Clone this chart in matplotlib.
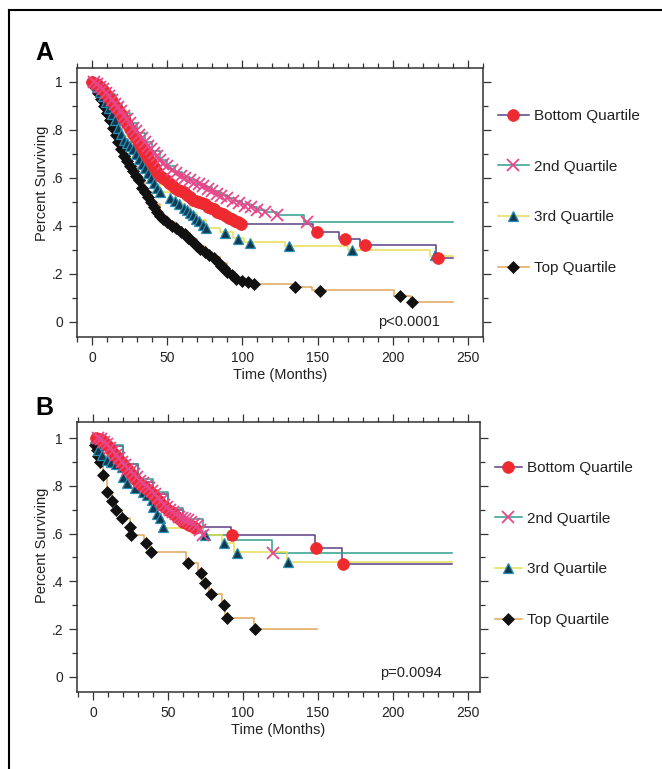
import matplotlib
matplotlib.use('Agg')
import matplotlib.pyplot as plt
from matplotlib.lines import Line2D
from matplotlib.ticker import MultipleLocator, FixedLocator, FixedFormatter

plt.rcParams['font.family'] = ['Liberation Sans', 'DejaVu Sans']

# ---------------- data ----------------
groups = ['Bottom Quartile', '2nd Quartile', '3rd Quartile', 'Top Quartile']
x_ticks = [0, 50, 100, 150, 200, 250]
y_ticks = [0, 0.2, 0.4, 0.6, 0.8, 1.0]
y_tick_labels = ['0', '.2', '.4', '.6', '.8', '1']
p_values = ['p<0.0001', 'p=0.0094']
panel_labels = ['A', 'B']

# Panel A  (step-line knots, then censor marks)
A_bottom_line_t = [0, 5, 10, 15, 20, 25, 30, 35, 40, 45, 50, 55, 60, 65, 70, 75, 80, 85, 90, 95, 100, 147, 164, 178, 229, 240]
A_bottom_line_s = [1.0, 0.98, 0.94, 0.90, 0.855, 0.805, 0.755, 0.705, 0.655, 0.61, 0.585, 0.56, 0.54, 0.52, 0.50, 0.49, 0.475, 0.455, 0.44, 0.42, 0.407, 0.375, 0.345, 0.32, 0.265, 0.265]
A_bottom_mark_t = [0, 3, 5, 7, 9, 11, 13, 15, 17, 19, 21, 23, 25, 27, 29, 31, 33, 35, 37, 39, 41, 43, 45, 47, 49, 51, 53, 55, 57, 59, 61, 63, 65, 67, 69, 71, 73, 75, 77, 79, 81, 83, 85, 87, 89, 91, 93, 95, 97, 99, 149.6, 168, 181.5, 230]
A_bottom_mark_s = [1.0, 0.99, 0.98, 0.965, 0.95, 0.935, 0.92, 0.90, 0.885, 0.865, 0.845, 0.825, 0.805, 0.785, 0.765, 0.745, 0.725, 0.705, 0.685, 0.665, 0.645, 0.625, 0.61, 0.60, 0.59, 0.58, 0.57, 0.56, 0.55, 0.545, 0.54, 0.53, 0.52, 0.51, 0.505, 0.50, 0.495, 0.49, 0.48, 0.475, 0.47, 0.46, 0.455, 0.45, 0.44, 0.435, 0.43, 0.42, 0.415, 0.41, 0.375, 0.345, 0.32, 0.265]

A_2nd_line_t = [0, 5, 10, 15, 20, 25, 30, 35, 40, 45, 50, 55, 60, 65, 70, 75, 80, 85, 90, 95, 100, 105, 110, 115, 123, 141, 240]
A_2nd_line_s = [1.0, 0.98, 0.948, 0.91, 0.87, 0.83, 0.787, 0.75, 0.712, 0.675, 0.65, 0.625, 0.605, 0.59, 0.575, 0.562, 0.545, 0.528, 0.515, 0.503, 0.49, 0.478, 0.468, 0.458, 0.445, 0.417, 0.417]
A_2nd_mark_t = [1, 3, 5, 7, 9, 11, 13, 15, 17, 19, 21, 23, 25, 27, 29, 31, 33, 35, 37, 39, 41, 43, 45, 47, 50, 53, 56, 59, 62, 65, 68, 71, 74, 77, 80, 83, 86, 90, 94, 98, 102, 106, 110, 115, 123, 143]
A_2nd_mark_s = [1.0, 0.99, 0.98, 0.97, 0.955, 0.94, 0.925, 0.91, 0.895, 0.88, 0.86, 0.845, 0.83, 0.81, 0.795, 0.78, 0.765, 0.75, 0.735, 0.72, 0.705, 0.69, 0.675, 0.66, 0.65, 0.635, 0.62, 0.61, 0.60, 0.59, 0.58, 0.575, 0.565, 0.555, 0.545, 0.535, 0.525, 0.515, 0.505, 0.495, 0.485, 0.477, 0.468, 0.458, 0.445, 0.417]

A_3rd_line_t = [0, 5, 10, 15, 20, 25, 30, 35, 40, 45, 52, 55, 60, 65, 70, 76, 85, 94, 101, 128, 170, 225, 240]
A_3rd_line_s = [1.0, 0.96, 0.9, 0.84, 0.775, 0.735, 0.69, 0.64, 0.59, 0.54, 0.515, 0.5, 0.48, 0.455, 0.425, 0.39, 0.375, 0.35, 0.333, 0.316, 0.30, 0.275, 0.275]
A_3rd_mark_t = [1, 3, 5, 7, 9, 11, 13, 15, 17, 19, 21, 23, 25, 27, 29, 31, 33, 35, 37, 39, 41, 43, 45, 52, 55, 58, 61, 63, 65, 67, 69, 71, 74, 76, 88.5, 97, 105, 131, 173, 228]
A_3rd_mark_s = [1.0, 0.98, 0.96, 0.94, 0.915, 0.89, 0.865, 0.84, 0.81, 0.785, 0.76, 0.745, 0.735, 0.72, 0.70, 0.68, 0.66, 0.64, 0.62, 0.60, 0.58, 0.56, 0.54, 0.515, 0.505, 0.49, 0.475, 0.465, 0.455, 0.445, 0.43, 0.42, 0.405, 0.39, 0.372, 0.345, 0.33, 0.316, 0.30, 0.28]

A_top_line_t = [0, 5, 10, 15, 20, 25, 30, 35, 40, 45, 50, 55, 60, 65, 70, 75, 80, 85, 90, 95, 100, 108, 133, 146, 201, 212, 240]
A_top_line_s = [1.0, 0.945, 0.87, 0.79, 0.70, 0.65, 0.60, 0.54, 0.49, 0.44, 0.415, 0.395, 0.37, 0.345, 0.315, 0.29, 0.27, 0.245, 0.21, 0.185, 0.172, 0.158, 0.146, 0.132, 0.11, 0.083, 0.083]
A_top_mark_t = [0, 2, 4, 6, 8, 10, 12, 14, 16, 17, 19, 21, 23, 25, 27, 29, 31, 33, 35, 37, 39, 41, 43, 45, 47, 50, 53, 56, 59, 62, 64, 66, 68, 70, 72, 75, 78, 81, 84, 86, 88, 90, 93, 96, 100, 104, 108, 135, 151.6, 205, 212.8]
A_top_mark_s = [1.0, 0.98, 0.955, 0.93, 0.90, 0.87, 0.84, 0.81, 0.78, 0.75, 0.72, 0.69, 0.67, 0.65, 0.63, 0.61, 0.59, 0.56, 0.54, 0.52, 0.50, 0.48, 0.46, 0.44, 0.43, 0.415, 0.40, 0.39, 0.375, 0.365, 0.35, 0.34, 0.33, 0.315, 0.305, 0.29, 0.28, 0.265, 0.25, 0.235, 0.225, 0.21, 0.195, 0.18, 0.172, 0.165, 0.16, 0.146, 0.13, 0.11, 0.083]

# Panel B
B_bottom_line_t = [0, 10, 20, 30, 40, 50, 60, 68, 92, 148, 166, 239]
B_bottom_line_s = [1.0, 0.965, 0.89, 0.815, 0.765, 0.70, 0.65, 0.628, 0.594, 0.54, 0.473, 0.473]
B_bottom_mark_t = [2, 4, 6, 8, 10, 12, 14, 16, 18, 20, 22, 24, 26, 28, 30, 32, 34, 36, 38, 40, 42, 44, 46, 48, 50, 52, 54, 56, 58, 60, 62, 64, 66, 68, 92.7, 148.7, 166.7]
B_bottom_mark_s = [1.0, 0.995, 0.99, 0.98, 0.965, 0.95, 0.935, 0.92, 0.905, 0.89, 0.875, 0.86, 0.845, 0.83, 0.815, 0.805, 0.795, 0.785, 0.775, 0.765, 0.75, 0.735, 0.72, 0.71, 0.70, 0.69, 0.68, 0.67, 0.66, 0.65, 0.643, 0.636, 0.63, 0.625, 0.594, 0.54, 0.473]

B_2nd_line_t = [0, 10, 20, 30, 40, 50, 60, 73, 90, 119, 239]
B_2nd_line_s = [1.0, 0.97, 0.89, 0.83, 0.775, 0.705, 0.66, 0.594, 0.573, 0.519, 0.519]
B_2nd_mark_t = [3, 5, 7, 9, 11, 13, 15, 17, 19, 21, 23, 25, 27, 29, 31, 33, 35, 37, 39, 41, 43, 45, 47, 49, 51, 53, 55, 57, 59, 61, 63, 65, 67, 69, 71, 73.5, 120]
B_2nd_mark_s = [1.0, 0.995, 0.985, 0.975, 0.96, 0.945, 0.93, 0.915, 0.90, 0.885, 0.87, 0.86, 0.85, 0.835, 0.82, 0.81, 0.80, 0.79, 0.78, 0.765, 0.75, 0.735, 0.72, 0.71, 0.70, 0.69, 0.68, 0.67, 0.665, 0.66, 0.655, 0.65, 0.64, 0.63, 0.615, 0.594, 0.52]

B_3rd_line_t = [0, 3.6, 9.1, 19, 20, 22.4, 33.5, 39, 40, 42.4, 44.7, 46.4, 73, 86, 94, 129, 239]
B_3rd_line_s = [1.0, 0.95, 0.908, 0.88, 0.837, 0.81, 0.775, 0.74, 0.71, 0.684, 0.664, 0.625, 0.594, 0.559, 0.523, 0.48, 0.48]
B_3rd_mark_t = [1, 3.6, 6, 9.1, 12, 15, 19, 20, 22.4, 28, 33.5, 36, 39, 40, 42.4, 44.7, 46.4, 74.7, 87.3, 95.8, 130]
B_3rd_mark_s = [1.0, 0.95, 0.93, 0.908, 0.90, 0.89, 0.88, 0.837, 0.81, 0.79, 0.775, 0.76, 0.74, 0.71, 0.684, 0.664, 0.629, 0.594, 0.559, 0.52, 0.483]

B_top_line_t = [0, 1, 2.4, 3.6, 4.7, 6.5, 9.5, 12.4, 15.5, 19.5, 24.5, 25.5, 34, 38, 62, 70, 73, 77, 86, 88, 107, 149]
B_top_line_s = [1.0, 0.971, 0.95, 0.925, 0.90, 0.845, 0.772, 0.738, 0.699, 0.664, 0.629, 0.594, 0.559, 0.522, 0.476, 0.434, 0.392, 0.349, 0.301, 0.245, 0.200, 0.200]
B_top_mark_t = [1, 2.4, 3.6, 4.7, 6.5, 9.5, 12.4, 15.5, 19.5, 24.5, 25.5, 35.5, 38.8, 63.6, 72, 74.5, 78.8, 87.2, 89.1, 108]
B_top_mark_s = [0.971, 0.95, 0.925, 0.90, 0.845, 0.772, 0.738, 0.699, 0.664, 0.629, 0.594, 0.559, 0.522, 0.476, 0.434, 0.392, 0.349, 0.301, 0.245, 0.200]

# ---------------- styles ----------------
line_colors = ['#5b3f86', '#2f9e8c', '#e6de55', '#e0a55a']
marker_styles = [
    dict(marker='o', markersize=8.5, markerfacecolor='#ee2a30', markeredgecolor='#ee2a30', markeredgewidth=0.5),
    dict(marker='x', markersize=8, markerfacecolor='#e8468a', markeredgecolor='#e8468a', markeredgewidth=1.3),
    dict(marker='^', markersize=7, markerfacecolor='#103a50', markeredgecolor='#2c8db3', markeredgewidth=0.9),
    dict(marker='D', markersize=6.3, markerfacecolor='#111111', markeredgecolor='#111111', markeredgewidth=0.5),
]
marker_draw_order = [3, 2, 0, 1]

panels = [
    dict(lines=[(A_bottom_line_t, A_bottom_line_s), (A_2nd_line_t, A_2nd_line_s),
                (A_3rd_line_t, A_3rd_line_s), (A_top_line_t, A_top_line_s)],
         marks=[(A_bottom_mark_t, A_bottom_mark_s), (A_2nd_mark_t, A_2nd_mark_s),
                (A_3rd_mark_t, A_3rd_mark_s), (A_top_mark_t, A_top_mark_s)],
         rect=[77/662, 1-337/769, 406/662, 269/769], xlim=(-10, 260), ylim=(-0.0625, 1.058),
         ptext=(0.894, 0.056), ylab=(-0.086, 0.57), legend=(498/662, 1-192/769), hl=2.0,
         letter=(35/662, 1-53/769)),
    dict(lines=[(B_bottom_line_t, B_bottom_line_s), (B_2nd_line_t, B_2nd_line_s),
                (B_3rd_line_t, B_3rd_line_s), (B_top_line_t, B_top_line_s)],
         marks=[(B_bottom_mark_t, B_bottom_mark_s), (B_2nd_mark_t, B_2nd_mark_s),
                (B_3rd_mark_t, B_3rd_mark_s), (B_top_mark_t, B_top_mark_s)],
         rect=[77/662, 1-692/769, 403/662, 270/769], xlim=(-10.7, 258), ylim=(-0.063, 1.067),
         ptext=(0.906, 0.070), ylab=(-0.086, 0.544), legend=(495/662, 1-544/769), hl=1.75,
         letter=(35/662, 1-408/769)),
]

fig = plt.figure(figsize=(6.62, 7.69), dpi=100)
fig.patch.set_facecolor('white')

for k, pn in enumerate(panels):
    ax = fig.add_axes(pn['rect'])
    for i, (t, s) in enumerate(pn['lines']):
        ax.step(t, s, where='post', color=line_colors[i], lw=1.1, zorder=2)
    for i in marker_draw_order:
        t, s = pn['marks'][i]
        ax.plot(t, s, linestyle='none', zorder=3, **marker_styles[i])
    ax.set_xlim(*pn['xlim'])
    ax.set_ylim(*pn['ylim'])
    ax.xaxis.set_major_locator(FixedLocator(x_ticks))
    ax.xaxis.set_minor_locator(MultipleLocator(10))
    ax.yaxis.set_major_locator(FixedLocator(y_ticks))
    ax.yaxis.set_major_formatter(FixedFormatter(y_tick_labels))
    ax.yaxis.set_minor_locator(MultipleLocator(0.1))
    ax.tick_params(which='both', direction='out', top=True, right=True,
                   labeltop=False, labelright=False, color='#333333', width=0.9)
    ax.tick_params(which='major', length=6, labelsize=10, pad=4, labelcolor='#222222')
    ax.tick_params(which='minor', length=3.5)
    for sp in ax.spines.values():
        sp.set_color('#333333')
        sp.set_linewidth(1.1)
    ax.set_xlabel('Time (Months)', fontsize=10.5, color='#222222', labelpad=2)
    ax.set_ylabel('Percent Surviving', fontsize=10.5, color='#222222')
    ax.yaxis.set_label_coords(*pn['ylab'])
    ax.yaxis.label.set_va('center')
    ax.text(pn['ptext'][0], pn['ptext'][1], p_values[k], transform=ax.transAxes,
            ha='right', va='center', fontsize=10.5, color='#222222')
    handles = [Line2D([], [], color=line_colors[i], lw=1.1, **marker_styles[i]) for i in range(4)]
    ax.legend(handles, groups, loc='center left', bbox_to_anchor=pn['legend'],
              bbox_transform=fig.transFigure, frameon=False, fontsize=11,
              handlelength=pn['hl'], handletextpad=0.35, labelspacing=2.4,
              borderpad=0, borderaxespad=0, labelcolor='#222222')
    fig.text(pn['letter'][0], pn['letter'][1], panel_labels[k], fontsize=18,
             fontweight='bold', ha='left', va='center')

# outer frame (top and left edges)
fig.add_artist(Line2D([9/662, 9/662], [0, 1-10/769], transform=fig.transFigure, color='black', lw=1.5))
fig.add_artist(Line2D([9/662, 1], [1-10/769, 1-10/769], transform=fig.transFigure, color='black', lw=1.5))

fig.savefig('out.png', dpi=100, facecolor='white')
